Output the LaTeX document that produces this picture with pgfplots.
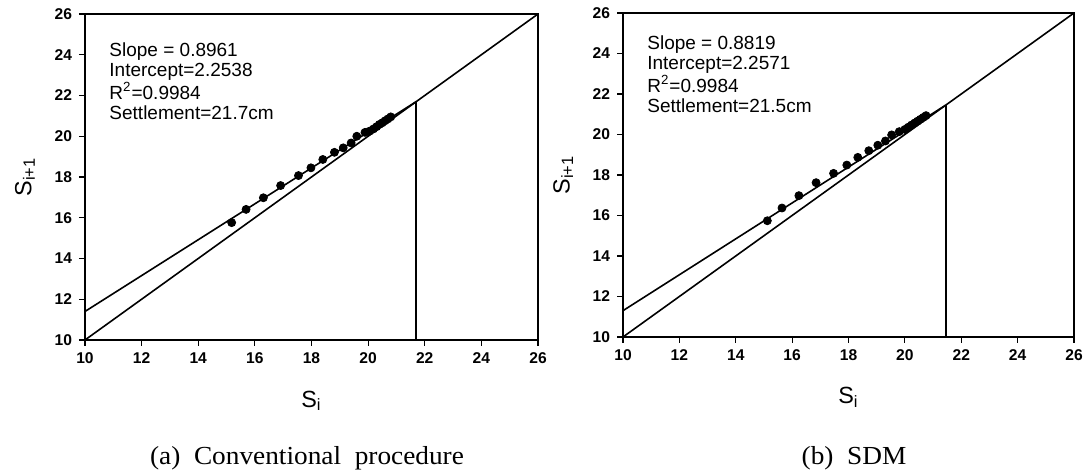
\documentclass[border=0pt]{standalone}
\usepackage{fontspec}
\setmainfont{Liberation Sans}
\newfontfamily\capfont[FakeStretch=1.05]{Liberation Serif}
\usepackage{pgfplots}
\pgfplotsset{compat=1.18}

\pgfplotsset{
  asaoka/.style={
    scale only axis,
    width=226.5pt, height=163pt,
    xmin=10, xmax=26, ymin=10, ymax=26,
    xtick={10,12,...,26}, ytick={10,12,...,26},
    tick pos=left, tick align=outside, major tick length=3pt,
    tick style={black, line width=0.6pt},
    axis line style={line width=0.8pt},
    /pgf/number format/assume math mode=true,
    tick label style={font=\fontsize{7.8}{9}\selectfont\bfseries},
    label style={font=\fontsize{11.7}{13}\selectfont},
    xlabel={S\textsubscript{i}},
    ylabel={S\textsubscript{i+1}},
    xlabel style={at={(axis description cs:0.5,-0.187)}, anchor=center},
    ylabel style={at={(axis description cs:-0.1325,0.5)}, anchor=center},
    clip=false,
  },
  fitline/.style={black, line width=0.8pt, no marks},
  pts/.style={only marks, mark=*, mark size=2pt, black, mark options={fill=black}},
}
\tikzset{note/.style={anchor=north west, inner sep=0pt, align=left,
                      font=\fontsize{9.5}{10}\selectfont}}

\begin{document}
\begin{tikzpicture}
\path[use as bounding box] (0,0) rectangle (543.5pt,237pt);

% (a) conventional procedure
\begin{axis}[asaoka, at={(42.5pt,67pt)}, anchor=south west]
  \addplot[fitline] coordinates {(10,10) (26,26)};
  \addplot[fitline] coordinates {(10,11.4) (21.7,21.7)};
  \addplot[fitline] coordinates {(21.7,10) (21.7,21.7)};
  \addplot[pts] coordinates {
    (15.18,15.76) (15.69,16.41) (16.30,16.98) (16.91,17.58) (17.54,18.07)
    (17.98,18.45) (18.40,18.86) (18.81,19.21) (19.12,19.43) (19.40,19.67)
    (19.60,20.00) (19.89,20.19) (20.05,20.25) (20.19,20.36) (20.30,20.47)
    (20.40,20.58) (20.50,20.66) (20.60,20.76) (20.70,20.85) (20.80,20.95)
  };
  \node[note] at (axis cs:10.85,24.6)
    {Slope = 0.8961\\Intercept=2.2538\\R\textsuperscript{2}=0.9984\\Settlement=21.7cm};
\end{axis}

% (b) SDM
\begin{axis}[asaoka, at={(311.5pt,68.5pt)}, anchor=south west, width=225.5pt, height=162pt]
  \addplot[fitline] coordinates {(10,10) (26,26)};
  \addplot[fitline] coordinates {(10,11.3) (21.45,21.45)};
  \addplot[fitline] coordinates {(21.45,10) (21.45,21.45)};
  \addplot[pts] coordinates {
    (15.12,15.74) (15.64,16.37) (16.24,16.98) (16.85,17.62) (17.47,18.08)
    (17.94,18.49) (18.33,18.87) (18.72,19.20) (19.04,19.47) (19.31,19.68)
    (19.53,19.98) (19.80,20.14) (20.00,20.25) (20.12,20.36) (20.24,20.47)
    (20.35,20.57) (20.45,20.66) (20.55,20.75) (20.65,20.84) (20.75,20.93)
  };
  \node[note] at (axis cs:10.85,24.9)
    {Slope = 0.8819\\Intercept=2.2571\\R\textsuperscript{2}=0.9984\\Settlement=21.5cm};
\end{axis}

\node[font=\capfont\fontsize{13}{14}\selectfont] at (153.5pt,8pt) {(a)\ \ Conventional\ \ procedure};
\node[font=\capfont\fontsize{13}{14}\selectfont] at (427pt,8pt) {(b)\ \ SDM};
\end{tikzpicture}
\end{document}
